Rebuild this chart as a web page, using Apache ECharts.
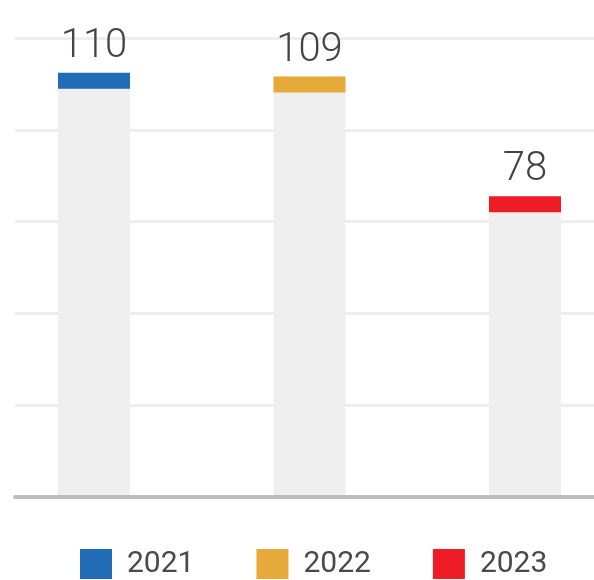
<!DOCTYPE html>
<html>
<head>
<meta charset="utf-8">
<script src="https://cdn.jsdelivr.net/npm/echarts@6/dist/echarts.min.js"></script>
<style>
  html, body { margin: 0; padding: 0; background: #ffffff; }
  #chart { width: 594px; height: 580px; }
</style>
</head>
<body>
<div id="chart"></div>
<script>
// Yearly totals
const years = ['2021', '2022', '2023'];
const totals = [110, 109, 78];
const yearColors = ['#206cb6', '#e6aa3a', '#ee1c25'];

// Value axis range
const axisMax = 119;
const axisSteps = 5;

const chart = echarts.init(document.getElementById('chart'), null, { renderer: 'canvas' });

// One cap series per year, holding only that year's value
const capSeries = years.map((y, i) => ({
  name: y,
  type: 'pictorialBar',
  xAxisIndex: 1,
  yAxisIndex: 1,
  barWidth: 72,
  barGap: '-100%',
  symbol: 'rect',
  symbolSize: [72, 16],
  symbolPosition: 'end',
  symbolClip: false,
  itemStyle: { color: yearColors[i] },
  z: 4,
  data: totals.map((v, j) => (j === i ? v : '-'))
}));

chart.setOption({
  animation: false,
  color: yearColors,
  grid: [
    { left: 15, right: 0, top: 38, bottom: 83, outerBoundsMode: 'none' },
    { left: -13.75, width: 646.5, top: 38, bottom: 83, outerBoundsMode: 'none' }
  ],
  legend: {
    data: years,
    left: 80,
    top: 549,
    padding: 0,
    itemWidth: 32,
    itemHeight: 30,
    itemGap: 62,
    icon: 'rect',
    textStyle: {
      fontFamily: 'Roboto',
      fontSize: 30,
      color: '#4a4a4a',
      padding: [0, 0, 0, 10]
    }
  },
  xAxis: [
    {
      gridIndex: 0,
      type: 'category',
      data: years,
      z: 6,
      axisLine: { show: true, lineStyle: { color: '#bdbdbd', width: 4 } },
      axisTick: { show: false },
      axisLabel: { show: false }
    },
    {
      gridIndex: 1,
      type: 'category',
      data: years,
      axisLine: { show: false },
      axisTick: { show: false },
      axisLabel: { show: false }
    }
  ],
  yAxis: [
    {
      gridIndex: 0,
      type: 'value',
      min: 0,
      max: axisMax,
      interval: axisMax / axisSteps,
      axisLine: { show: false },
      axisTick: { show: false },
      axisLabel: { show: false },
      splitLine: { show: true, lineStyle: { color: '#eeeeee', width: 3 } }
    },
    {
      gridIndex: 1,
      type: 'value',
      min: 0,
      max: axisMax,
      interval: axisMax / axisSteps,
      axisLine: { show: false },
      axisTick: { show: false },
      axisLabel: { show: false },
      splitLine: { show: false }
    }
  ],
  series: [
    {
      name: 'total',
      type: 'bar',
      xAxisIndex: 1,
      yAxisIndex: 1,
      barWidth: 72,
      itemStyle: { color: '#efefef' },
      z: 2,
      label: {
        show: true,
        position: 'top',
        distance: 6,
        fontFamily: 'Roboto',
        fontWeight: 300,
        fontSize: 40,
        color: '#444444'
      },
      data: totals
    }
  ].concat(capSeries)
});
</script>
</body>
</html>
